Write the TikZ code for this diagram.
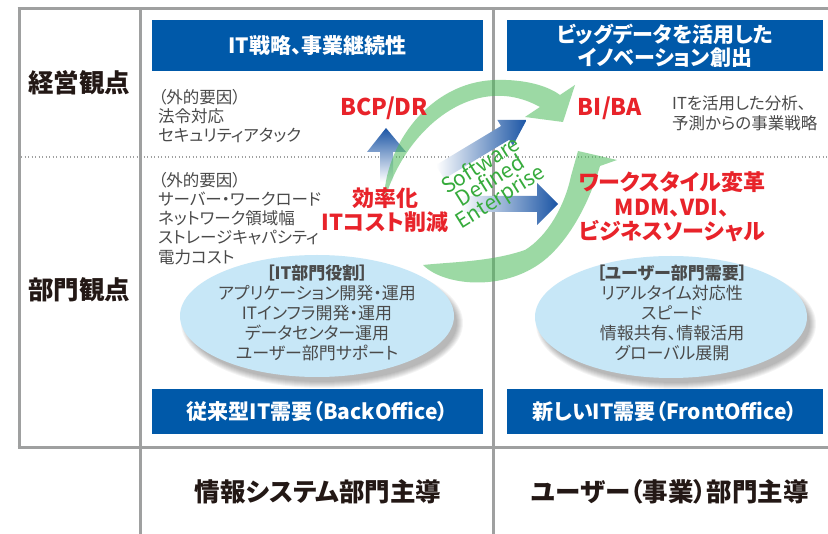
\documentclass[tikz,border=0pt]{standalone}
\usepackage{fontspec}
\setmainfont{Noto Sans CJK JP}[RawFeature=+palt]
\usetikzlibrary{shapes.geometric}
\definecolor{hdrblue}{HTML}{0059A9}
\definecolor{gridgray}{HTML}{9FA0A0}
\definecolor{txtgray}{HTML}{4A4A4A}
\definecolor{redtxt}{HTML}{E8232A}
\definecolor{ellfill}{HTML}{C7E7F7}
\definecolor{arrowblue}{HTML}{1B55A5}
\definecolor{sdegreen}{HTML}{36AB3C}
\definecolor{arcgreen}{HTML}{4CBB5A}
\definecolor{lblblack}{HTML}{231815}
\begin{document}
\begin{tikzpicture}[x=1pt,y=-1pt,
  gridline/.style={draw=gridgray,line width=3pt},
  dotline/.style={draw=gridgray,line width=1.3pt,dash pattern=on 1.3pt off 2.2pt},
  hdr/.style={fill=hdrblue,text=white,font=\bfseries\fontsize{21}{23}\selectfont,inner sep=0pt,align=center,minimum height=51pt},
  lbl/.style={text=lblblack,font=\bfseries\fontsize{25.5}{28}\selectfont,inner sep=0pt},
  lbltwo/.style={text=lblblack,font=\bfseries\fontsize{25.5}{28}\selectfont,inner sep=0pt},
  gtxt/.style={text=txtgray,font=\fontsize{16.5}{19.2}\selectfont,inner sep=0pt,align=left,anchor=north west},
  rtxt/.style={text=redtxt,font=\bfseries\fontsize{22}{24.5}\selectfont,inner sep=0pt,align=center},
  etxt/.style={text=txtgray,font=\fontsize{17}{19.8}\selectfont,inner sep=0pt,align=center},
  ellbox/.style={ellipse,fill=ellfill,minimum width=274pt,minimum height=122pt,inner sep=0pt},
  arcfill/.style={fill=arcgreen,fill opacity=0.55},
  sdetext/.style={font=\fontsize{21}{18.5}\selectfont,align=center,rotate=32,inner sep=0pt},
]
\useasboundingbox[fill=white] (0,0) rectangle (828,534);

% grid
\draw[gridline] (17.5,9) -- (828,9);
\draw[gridline] (19,9) -- (19,448);
\draw[gridline] (140,9) -- (140,534);
\draw[gridline] (493,9) -- (493,534);
\draw[gridline] (17.5,448) -- (828,448);
\draw[dotline] (21,157) -- (828,157);

% headers
\node[hdr,minimum width=331pt] (h1) at (317.5,45.5) {IT戦略、事業継続性};
\node[hdr,minimum width=316pt] (h2) at (665,45.5) {ビッグデータを活用した\\イノベーション創出};
\node[hdr,minimum width=331pt,minimum height=45pt] (h3) at (317.5,411.5) {従来型IT需要（BackOffice）};
\node[hdr,minimum width=316pt,minimum height=45pt] (h4) at (665,411.5) {新しいIT需要（FrontOffice）};

% row / column labels
\node[lbl] (k1) at (79,83) {経営観点};
\node[lbl] (k2) at (79,290) {部門観点};
\node[lbltwo] (b1) at (318,492) {情報システム部門主導};
\node[lbltwo] (b2) at (670,492) {ユーザー（事業）部門主導};

% ellipses with soft shadows
\foreach \d in {0,...,6} {
  \fill[black,opacity=0.045] (322,323) ellipse [x radius=135+\d, y radius=59+\d];
  \fill[black,opacity=0.045] (676,324) ellipse [x radius=134+\d, y radius=59+\d];
}
\node[ellbox] (e1) at (317,316) {};
\node[ellbox,minimum width=272pt] (e2) at (671,317) {};
\node[etxt] (t1) at (317,313) {\textbf{［IT部門役割］}\\アプリケーション開発・運用\\ITインフラ開発・運用\\データセンター運用\\ユーザー部門サポート};
\node[etxt] (t2) at (672,313) {\textbf{［ユーザー部門需要］}\\リアルタイム対応性\\スピード\\情報共有、情報活用\\グローバル展開};

% gray texts
\node[gtxt] (g1) at (158,89) {（外的要因）\\法令対応\\セキュリティアタック};
\node[gtxt] (g2) at (158,172) {（外的要因）\\サーバー・ワークロード\\ネットワーク領域幅\\ストレージキャパシティ\\電力コスト};
\node[gtxt,font=\fontsize{16.5}{20}\selectfont] (g3) at (672,95) {ITを活用した分析、\\予測からの事業戦略};

% blue arrows
\shade[top color=arrowblue,bottom color=white]
  (380,182) -- (380,152) -- (367,152) -- (386,128) -- (406,152) -- (393,152) -- (393,182) -- cycle;
\begin{scope}[shift={(440,172)},rotate=31]
  \shade[left color=white,right color=arrowblue]
    (0,-8) -- (76,-8) -- (76,-15) -- (101,0) -- (76,15) -- (76,8) -- (0,8) -- cycle;
\end{scope}
\shade[left color=white,right color=arrowblue]
  (460,196) -- (537,196) -- (537,183) -- (558,204) -- (537,225) -- (537,212) -- (460,212) -- cycle;

% green circular arrows
\fill[arcfill] (384,202) .. controls (384,145) and (430,82) .. (495,80)
  .. controls (525,79) and (548,86) .. (560,95) -- (575,85) -- (563,122) -- (525,117) -- (540,107)
  .. controls (522,97) and (505,95) .. (493,96)
  .. controls (445,99) and (400,145) .. (384,202) -- cycle;
\fill[arcfill] (423,265) .. controls (445,287) and (508,292) .. (547,258)
  .. controls (572,236) and (590,200) .. (600,166) -- (617,160) -- (578,151) -- (571,176)
  .. controls (565,205) and (548,236) .. (525,250)
  .. controls (490,262) and (450,262) .. (423,265) -- cycle;

% red texts
\node[rtxt,font=\bfseries\fontsize{23}{25}\selectfont] (bcp) at (384,108) {BCP/DR};
\node[rtxt] (eff) at (385,210) {効率化\\ITコスト削減};
\node[rtxt,font=\bfseries\fontsize{23}{25}\selectfont] (bi) at (610,108) {BI/BA};
\node[rtxt] (ws) at (672,207) {ワークスタイル変革\\MDM、VDI、\\ビジネスソーシャル};

% Software Defined Enterprise
\node[sdetext,text=sdegreen] (sde) at (491,182) {Software\\Defined\\Enterprise};
\end{tikzpicture}
\end{document}
